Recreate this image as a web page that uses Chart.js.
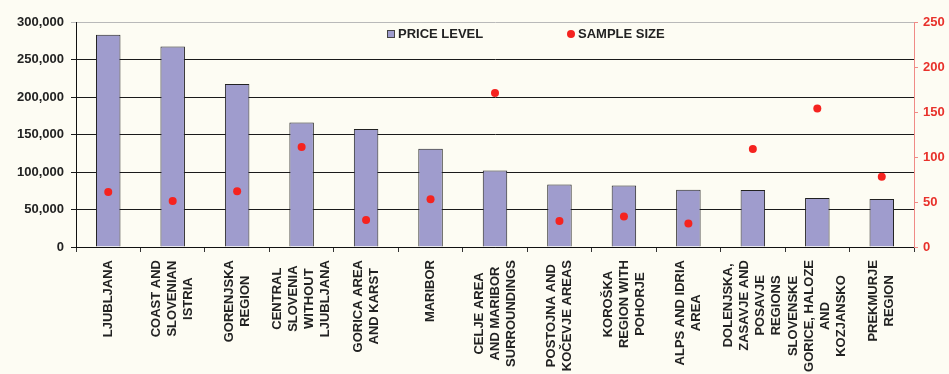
<!DOCTYPE html>
<html>
<head>
<meta charset="utf-8">
<script src="https://cdn.jsdelivr.net/npm/chart.js@4"></script>
<style>
  html, body { margin: 0; padding: 0; background: #fdfcf3; }
  #wrap { width: 949px; height: 374px; }
</style>
</head>
<body>
<div id="wrap"><canvas id="chart" width="949" height="374"></canvas></div>
<script>
const regions = [
    ["LJUBLJANA"],
    ["COAST AND", "SLOVENIAN", "ISTRIA"],
    ["GORENJSKA", "REGION"],
    ["CENTRAL", "SLOVENIA", "WITHOUT", "LJUBLJANA"],
    ["GORICA AREA", "AND KARST"],
    ["MARIBOR"],
    ["CELJE AREA", "AND MARIBOR", "SURROUNDINGS"],
    ["POSTOJNA AND", "KOČEVJE AREAS"],
    ["KOROŠKA", "REGION WITH", "POHORJE"],
    ["ALPS AND IDRIA", "AREA"],
    ["DOLENJSKA,", "ZASAVJE AND", "POSAVJE", "REGIONS"],
    ["SLOVENSKE", "GORICE, HALOZE", "AND", "KOZJANSKO"],
    ["PREKMURJE", "REGION"]
];
const priceLevel = [283000, 267500, 217500, 166000, 157500, 131000, 102000, 83500, 82000, 76500, 76000, 65500, 64000];
const sampleSize = [61, 51, 62, 111, 30, 53, 171, 29, 34, 26, 109, 154, 78];
const leftTicks = [0, 50000, 100000, 150000, 200000, 250000, 300000];
const rightTicks = [0, 50, 100, 150, 200, 250];

const barColor = "#9f9ccd";
const dotColor = "#f5231f";

// category labels drawn sideways, lines centred on each other
const xLabelPlugin = {
    id: "xLabels",
    afterDraw(chart) {
        const ctx = chart.ctx;
        const xs = chart.scales.x;
        const top = chart.chartArea.bottom + 13;
        ctx.save();
        ctx.font = "bold 13px 'Liberation Sans', Arial, sans-serif";
        ctx.fillStyle = "#222";
        ctx.textAlign = "center";
        ctx.textBaseline = "middle";
        regions.forEach((lines, i) => {
            const cx = xs.getPixelForTick(i);
            const maxLen = Math.max(...lines.map(l => ctx.measureText(l).width));
            ctx.save();
            ctx.translate(cx, top + maxLen / 2);
            ctx.rotate(-Math.PI / 2);
            lines.forEach((l, k) => {
                ctx.fillText(l, 0, (k - (lines.length - 1) / 2) * 16);
            });
            ctx.restore();
        });
        ctx.restore();
    }
};

const legendPlugin = {
    id: "innerLegend",
    afterDraw(chart) {
        const ctx = chart.ctx;
        const a = chart.chartArea;
        const y = a.top + 12;
        ctx.save();
        ctx.font = "bold 13px 'Liberation Sans', Arial, sans-serif";
        ctx.fillStyle = "#222";
        ctx.textBaseline = "middle";
        ctx.fillStyle = barColor;
        ctx.fillRect(a.left + 311, y - 4, 8, 8);
        ctx.strokeStyle = "#444";
        ctx.lineWidth = 1;
        ctx.strokeRect(a.left + 311.5, y - 3.5, 7, 7);
        ctx.fillStyle = "#222";
        ctx.fillText("PRICE LEVEL", a.left + 322, y);
        ctx.fillStyle = dotColor;
        ctx.beginPath();
        ctx.arc(a.left + 495, y, 4, 0, Math.PI * 2);
        ctx.fill();
        ctx.fillStyle = "#222";
        ctx.fillText("SAMPLE SIZE", a.left + 502, y);
        ctx.restore();
    }
};

new Chart(document.getElementById("chart"), {
    data: {
        labels: regions.map(r => r.join(" ")),
        datasets: [
            {
                type: "line",
                label: "SAMPLE SIZE",
                data: sampleSize,
                yAxisID: "y1",
                showLine: false,
                pointRadius: 4,
                pointBackgroundColor: dotColor,
                pointBorderWidth: 0,
                order: 0
            },
            {
                type: "bar",
                label: "PRICE LEVEL",
                data: priceLevel,
                yAxisID: "y",
                backgroundColor: barColor,
                borderColor: "#222",
                borderWidth: 1,
                categoryPercentage: 1,
                barPercentage: 0.38,
                order: 1
            }
        ]
    },
    options: {
        responsive: false,
        animation: false,
        layout: { padding: { top: 22, left: 0, right: 0, bottom: 0 } },
        plugins: {
            legend: { display: false },
            tooltip: { enabled: false }
        },
        scales: {
            x: {
                offset: true,
                ticks: { display: false },
                grid: { offset: true, drawOnChartArea: false, drawTicks: true, tickLength: 5, color: "#333" },
                border: { color: "#111", width: 1 },
                afterFit: s => { s.height = 127; }
            },
            y: {
                position: "left",
                min: 0,
                max: 300000,
                afterBuildTicks: s => { s.ticks = leftTicks.map(v => ({ value: v })); },
                ticks: {
                    padding: 7,
                    color: "#222",
                    font: { family: "'Liberation Sans', Arial, sans-serif", size: 13, weight: "bold" },
                    callback: v => v.toLocaleString("en-US")
                },
                grid: {
                    tickLength: 5,
                    color: c => (c.tick && c.tick.value === 300000) ? "#b9b9b9" : "#1a1a1a"
                },
                border: { color: "#111", width: 1 },
                afterFit: s => { s.width = 76; }
            },
            y1: {
                position: "right",
                min: 0,
                max: 250,
                afterBuildTicks: s => { s.ticks = rightTicks.map(v => ({ value: v })); },
                ticks: {
                    padding: 5,
                    color: "#e8312b",
                    font: { family: "'Liberation Sans', Arial, sans-serif", size: 13, weight: "bold" }
                },
                grid: { drawOnChartArea: false, tickLength: 4, color: "#f08a86" },
                border: { color: "#f08a86", width: 1 },
                afterFit: s => { s.width = 35; }
            }
        }
    },
    plugins: [xLabelPlugin, legendPlugin]
});
</script>
</body>
</html>
